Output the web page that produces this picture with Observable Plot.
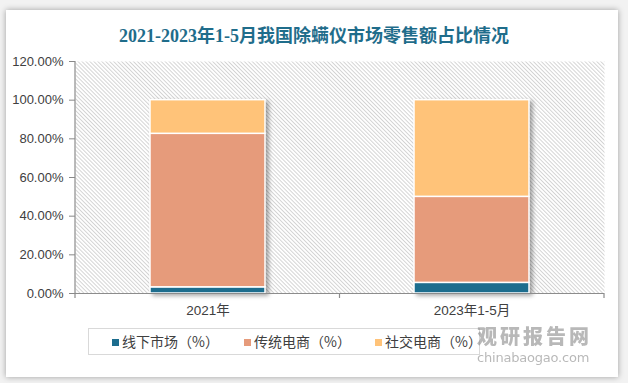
<!DOCTYPE html>
<html><head><meta charset="utf-8">
<script src="https://cdn.jsdelivr.net/npm/d3@7"></script>
<script src="https://cdn.jsdelivr.net/npm/@observablehq/plot@0.6"></script>
<style>
html,body{margin:0;padding:0;background:#f2f2f2;width:628px;height:383px;overflow:hidden;}
#card{position:absolute;left:6px;top:10px;width:612px;height:367px;background:#fff;box-shadow:0 0 6px rgba(0,0,0,0.35);}
#title{position:absolute;left:0;top:21px;width:628px;text-align:center;font-family:"Liberation Serif","Noto Sans CJK SC",serif;font-weight:bold;font-size:18px;color:#1f6d8b;}
#chart{position:absolute;left:0;top:0;}
#legend{position:absolute;left:88px;top:328px;width:392px;height:27px;border:1px solid #d9d9d9;box-sizing:border-box;font-family:"Noto Sans CJK SC",sans-serif;font-size:14px;color:#404040;}
.li{position:absolute;top:4px;line-height:16px;white-space:nowrap;}
.sw{display:inline-block;width:7px;height:7px;margin-right:3px;vertical-align:1px;}
#wm1{position:absolute;left:477px;top:321px;line-height:normal;font-family:"Noto Sans CJK SC",sans-serif;font-weight:900;font-size:20px;letter-spacing:3px;color:#8a8a8a;opacity:0.6;}
#wm2{position:absolute;left:477px;top:350px;line-height:normal;font-family:"DejaVu Sans",sans-serif;font-size:13px;color:#8a8a8a;opacity:0.6;letter-spacing:-0.2px;}
</style></head>
<body>
<div id="card"></div>
<div id="chart"></div>
<div id="title">2021-2023年1-5月我国除螨仪市场零售额占比情况</div>
<div id="legend"></div>
<div id="wm1">观研报告网</div>
<div id="wm2">chinabaogao.com</div>
<script>
const categories = ["2021年", "2023年1-5月"];
const seriesNames = ["线下市场（%）", "传统电商（%）", "社交电商（%）"];
const offline = [3.2, 5.5];
const traditional = [79.4, 44.5];
const social = [17.4, 50.0];
const yTicks = [0, 20, 40, 60, 80, 100, 120];
const colors = ["#1c6d8e", "#e69b7b", "#ffc379"];

const seriesValues = [offline, traditional, social];
const data = [];
seriesNames.forEach((s, i) => categories.forEach((c, j) => data.push({cat: c, series: s, value: seriesValues[i][j]})));

const plot = Plot.plot({
  width: 628, height: 320,
  marginLeft: 75, marginRight: 24, marginTop: 61, marginBottom: 27,
  style: {background: "transparent", fontFamily: "'Liberation Sans','Noto Sans CJK SC',sans-serif", fontSize: "13px", color: "#404040"},
  x: {domain: categories, paddingInner: 0.565, paddingOuter: 0.2825, label: null},
  y: {domain: [0, 120], label: null},
  color: {domain: seriesNames, range: colors},
  marks: [
    Plot.frame({fill: "url(#hatch)", stroke: "none"}),
    Plot.axisY({ticks: yTicks, tickFormat: d => d.toFixed(2) + "%", tickSize: 6, tickPadding: 6, stroke: "#888", fontSize: 13, label: null}),
    Plot.axisX({tickSize: 0, tickPadding: 12, fontSize: 13.5, label: null}),
    Plot.barY(data, {x: "cat", y: "value", fill: "series", order: seriesNames, stroke: "#fff", strokeWidth: 1.5}),
    Plot.ruleY([0], {stroke: "#8c8c8c", strokeWidth: 1.2})
  ]
});

const svg = d3.select(plot);
const defs = svg.insert("defs", ":first-child");
const pat = defs.append("pattern").attr("id", "hatch").attr("patternUnits", "userSpaceOnUse")
  .attr("width", 2.8).attr("height", 2.8).attr("patternTransform", "rotate(-45)");
pat.append("rect").attr("width", 2.8).attr("height", 2.8).attr("fill", "#fff");
pat.append("line").attr("x1", 0.5).attr("y1", 0).attr("x2", 0.5).attr("y2", 2.8).attr("stroke", "#cfcfcf").attr("stroke-width", 0.9);

svg.selectAll('g[aria-label="bar"]').style("filter", "drop-shadow(3px 2px 2px rgba(0,0,0,0.35))");

// axis lines and boundary ticks derived from the scales
const xs = plot.scale("x"), ys = plot.scale("y");
const [r0, r1] = xs.range;
const y0 = ys.apply(0), yTop = ys.apply(120);
const bw = xs.bandwidth;
const mid = (xs.apply(categories[0]) + bw + xs.apply(categories[1])) / 2;
const g = svg.append("g").attr("stroke", "#8c8c8c").attr("stroke-width", 1.2);
g.append("line").attr("x1", r0).attr("x2", r0).attr("y1", yTop).attr("y2", y0);
[r0, mid, r1].forEach(x => g.append("line").attr("x1", x).attr("x2", x).attr("y1", y0).attr("y2", y0 + 5));

document.getElementById("chart").appendChild(plot);

const lg = document.getElementById("legend");
const lx = [23, 155, 286];
seriesNames.forEach((s, i) => {
  const d = document.createElement("div");
  d.className = "li"; d.style.left = lx[i] + "px";
  d.innerHTML = `<span class="sw" style="background:${colors[i]}"></span>${s}`;
  lg.appendChild(d);
});
</script>
</body></html>
